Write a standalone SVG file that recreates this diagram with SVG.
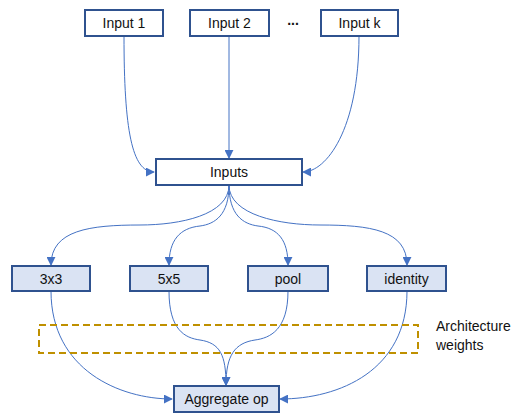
<svg xmlns="http://www.w3.org/2000/svg" width="530" height="415" viewBox="0 0 530 415">
<defs>
<marker id="arr" viewBox="0 0 10 10" refX="9" refY="5" markerWidth="9" markerHeight="9" markerUnits="userSpaceOnUse" orient="auto">
<path d="M0,0 L10,5 L0,10 z" fill="#4472C4"/>
</marker>
<style>
.box{fill:#fff;stroke:#2F528F;stroke-width:2}
.op{fill:#DAE3F3;stroke:#2F528F;stroke-width:2}
.t{font-family:"Liberation Sans",Arial,sans-serif;font-size:14px;fill:#111;text-anchor:middle}
.c{fill:none;stroke:#4472C4;stroke-width:1;marker-end:url(#arr)}
</style>
</defs>
<rect width="530" height="415" fill="#fff"/>
<g id="connectors">
<path class="c" d="M124,36 C124,130 132,172 154,172"/>
<path class="c" d="M229,36 L229,158"/>
<path class="c" d="M359,36 C359,130 326,172 303,172"/>
<path class="c" d="M229,185 C229,215 180,225 140,225 C90,225 51,230 51,265"/>
<path class="c" d="M229,185 C229,215 215,224 200,226 C180,228 169,240 169,265"/>
<path class="c" d="M229,185 C229,215 243,224 258,226 C278,228 288,240 288,265"/>
<path class="c" d="M229,185 C229,215 280,225 320,225 C370,225 407,230 407,265"/>
<path class="c" d="M51,291 C51,370 120,399 172,399"/>
<path class="c" d="M169,291 C169,330 185,338 200,340 C220,343 226,355 226,385"/>
<path class="c" d="M288,291 C288,330 270,338 255,340 C235,343 226,355 226,385"/>
<path class="c" d="M407,291 C407,370 340,399 280,399"/>
</g>
<g id="input1"><rect class="box" x="85" y="10" width="78" height="26"/><text class="t" x="124" y="28">Input 1</text></g>
<g id="input2"><rect class="box" x="190" y="10" width="79" height="26"/><text class="t" x="229.5" y="28">Input 2</text></g>
<g id="dots"><text class="t" x="293" y="25" font-weight="bold">...</text></g>
<g id="inputk"><rect class="box" x="321" y="10" width="77" height="26"/><text class="t" x="359.5" y="28">Input k</text></g>
<g id="inputs"><rect class="box" x="156" y="159" width="146" height="26"/><text class="t" x="229" y="177">Inputs</text></g>
<g id="op3x3"><rect class="op" x="12" y="266" width="78" height="25"/><text class="t" x="51" y="283.5">3x3</text></g>
<g id="op5x5"><rect class="op" x="130" y="266" width="78" height="25"/><text class="t" x="169" y="283.5">5x5</text></g>
<g id="pool"><rect class="op" x="248" y="266" width="80" height="25"/><text class="t" x="288" y="283.5">pool</text></g>
<g id="identity"><rect class="op" x="367" y="266" width="79" height="25"/><text class="t" x="406.5" y="283.5">identity</text></g>
<g id="weights">
<rect x="39" y="325" width="379" height="28" fill="none" stroke="#BF9000" stroke-width="2" stroke-dasharray="7,4"/>
<text class="t" x="436" y="331" style="text-anchor:start">Architecture</text>
<text class="t" x="436" y="350" style="text-anchor:start">weights</text>
</g>
<g id="aggregate"><rect class="op" x="174" y="386" width="105" height="26"/><text class="t" x="226.5" y="404">Aggregate op</text></g>
</svg>
